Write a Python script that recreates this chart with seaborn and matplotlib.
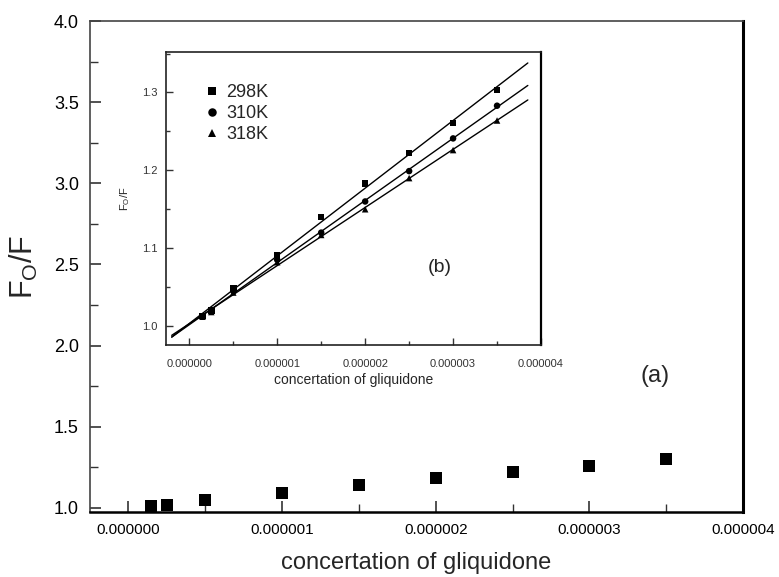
import numpy as np
import pandas as pd
import matplotlib
matplotlib.use("Agg")
import matplotlib.pyplot as plt
from matplotlib import ticker
import seaborn as sns

sns.set_style("ticks")
plt.rcParams["font.family"] = ["Liberation Sans", "DejaVu Sans"]
plt.rcParams["mathtext.default"] = "regular"

# concentration of gliquidone (mol/L)
conc = [1.5e-7, 2.5e-7, 5e-7, 1e-6, 1.5e-6, 2e-6, 2.5e-6, 3e-6, 3.5e-6]
f298 = [1.013, 1.020, 1.048, 1.091, 1.140, 1.183, 1.222, 1.261, 1.303]
f310 = [1.012, 1.020, 1.045, 1.085, 1.120, 1.160, 1.199, 1.241, 1.283]
f318 = [1.012, 1.018, 1.043, 1.082, 1.117, 1.150, 1.190, 1.226, 1.264]
temps = ["298K", "310K", "318K"]
markers = ["s", "o", "^"]

df = pd.concat([
    pd.DataFrame({"conc": conc, "F0F": vals, "T": t})
    for t, vals in zip(temps, [f298, f310, f318])
])

fig = plt.figure(figsize=(7.79, 5.77), dpi=100)
ax = fig.add_axes([0.1155, 0.1127, 0.8383, 0.8509])

# main panel (a): 298K only
main = df[df["T"] == "298K"]
sns.scatterplot(data=main, x="conc", y="F0F", marker="s", s=65, color="black",
                edgecolor="black", linewidth=0, ax=ax, legend=False)
ax.set_xlim(-2.5e-7, 4.0e-6)
ax.set_ylim(0.975, 4.0)
ax.xaxis.set_major_locator(ticker.MultipleLocator(1e-6))
ax.xaxis.set_minor_locator(ticker.MultipleLocator(5e-7))
ax.yaxis.set_major_locator(ticker.MultipleLocator(0.5))
ax.yaxis.set_minor_locator(ticker.MultipleLocator(0.25))
ax.xaxis.set_major_formatter(ticker.FuncFormatter(lambda v, p: "%.6f" % v))
ax.yaxis.set_major_formatter(ticker.FormatStrFormatter("%.1f"))
ax.tick_params(which="both", direction="in", top=False, right=False, colors="#333333")
ax.tick_params(which="major", length=8, width=1.2, labelsize=11, labelcolor="black", pad=8)
ax.tick_params(axis="y", which="major", labelsize=13)
ax.tick_params(which="minor", length=6, width=1.0)
ax.set_xlabel("concertation of gliquidone", fontsize=17, labelpad=11)
ax.set_ylabel("F$_O$/F", fontsize=22, labelpad=10)
for side, lw, c in [("left", 1.2, "#444444"), ("top", 1.2, "#444444"),
                    ("right", 2.2, "black"), ("bottom", 1.8, "black")]:
    ax.spines[side].set_linewidth(lw)
    ax.spines[side].set_color(c)
ax.text(0.865, 0.277, "(a)", transform=ax.transAxes, fontsize=17,
        ha="center", va="center")

# inset panel (b): all temperatures with linear fits
ins = fig.add_axes([0.2131, 0.402, 0.4814, 0.5079])
sns.scatterplot(data=df, x="conc", y="F0F", style="T", markers=markers,
                style_order=temps, s=22, color="black", edgecolor="black",
                linewidth=0, ax=ins)
xfit = np.linspace(-2e-7, 3.85e-6, 50)
for t, vals in zip(temps, [f298, f310, f318]):
    k, b = np.polyfit(conc, vals, 1)
    sns.lineplot(x=xfit, y=k * xfit + b, color="black", linewidth=1.0, ax=ins)
ins.set_xlim(-2.65e-7, 4.0e-6)
ins.set_ylim(0.9756, 1.352)
ins.xaxis.set_major_locator(ticker.MultipleLocator(1e-6))
ins.xaxis.set_minor_locator(ticker.MultipleLocator(5e-7))
ins.yaxis.set_major_locator(ticker.MultipleLocator(0.1))
ins.yaxis.set_minor_locator(ticker.MultipleLocator(0.05))
ins.xaxis.set_major_formatter(ticker.FuncFormatter(lambda v, p: "%.6f" % v))
ins.yaxis.set_major_formatter(ticker.FormatStrFormatter("%.1f"))
ins.tick_params(which="both", direction="in", top=False, right=False, colors="#333333")
ins.tick_params(which="major", length=5, width=1.0, labelsize=8, labelcolor="#333333", pad=6)
ins.tick_params(axis="x", which="major", pad=10)
ins.tick_params(which="minor", length=3, width=1.0)
ins.set_xlabel("concertation of gliquidone", fontsize=10, labelpad=3)
ins.set_ylabel("F$_O$/F", fontsize=8, labelpad=7)
for side in ins.spines:
    ins.spines[side].set_linewidth(1.2)
    ins.spines[side].set_color("#222222")
ins.spines["right"].set_linewidth(1.6)
ins.spines["right"].set_color("black")
leg = ins.legend(loc="upper left", bbox_to_anchor=(0.055, 0.945), frameon=False,
                 fontsize=13, handletextpad=0.3, labelspacing=0.22,
                 handlelength=1.0, markerscale=1.3, title=None)
ins.text(0.73, 0.263, "(b)", transform=ins.transAxes, fontsize=14,
         ha="center", va="center")

fig.savefig("out.png", dpi=100)
